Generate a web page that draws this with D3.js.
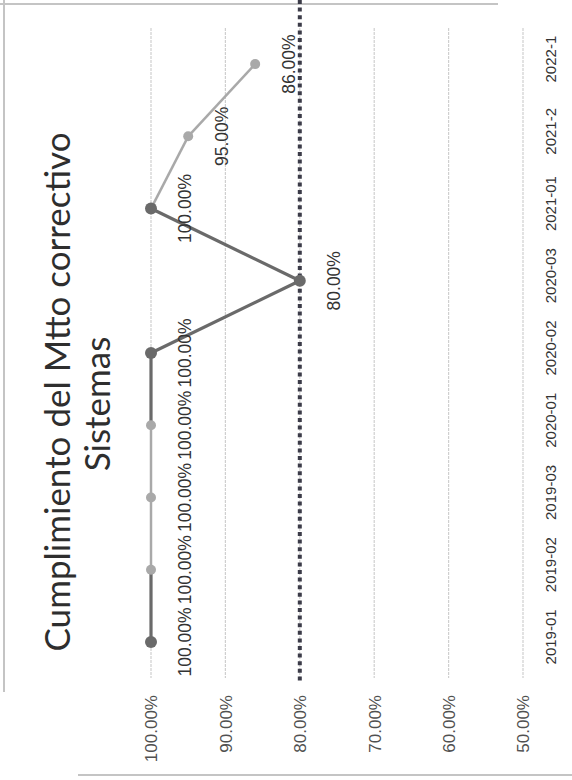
<!DOCTYPE html>
<html>
<head>
<meta charset="utf-8">
<script src="https://cdn.jsdelivr.net/npm/d3@7"></script>
<style>
  body { margin: 0; background: #fff; }
  svg { display: block; }
</style>
</head>
<body>
<div id="chart"></div>
<script>
// chart data (the scanned chart is turned a quarter turn, so it is drawn rotated)
const categories = ["2019-01", "2019-02", "2019-03", "2020-01", "2020-02", "2020-03", "2021-01", "2021-2", "2022-1"];
const cumplimiento = [1.0, 1.0, 1.0, 1.0, 1.0, 0.8, 1.0, 0.95, 0.86];
const meta = 0.8;
const valueTicks = [1.0, 0.9, 0.8, 0.7, 0.6, 0.5];
const titleLines = ["Cumplimiento del Mtto correctivo", "Sistemas"];

// which points/segments were printed in the darker shade
const darkPoints = ["2019-01", "2020-02", "2020-03", "2021-01"];
const darkSegments = ["2019-02", "2020-02", "2020-03", "2021-01"]; // segment ending at this category

const width = 572, height = 780;
const dark = "#6a6a6a", light = "#a9a9a9";

const svg = d3.select("#chart")
  .append("svg")
  .attr("width", width)
  .attr("height", height);

// frame of the scan
const frame = svg.append("g").attr("stroke", "#c4c4c4").attr("stroke-width", 2).attr("fill", "none");
frame.append("line").attr("x1", 0).attr("x2", 498).attr("y1", 4).attr("y2", 4);
frame.append("line").attr("x1", 4).attr("x2", 4).attr("y1", 0).attr("y2", 692);
frame.append("line").attr("x1", 78).attr("x2", 572).attr("y1", 775).attr("y2", 775);

// value scale runs left -> right, categories bottom -> top
const x = d3.scaleLinear().domain([0.5, 1.0]).range([523, 151]);
const y = d3.scaleBand().domain(categories).range([678, 28]);
const cy = (c) => y(c) + y.bandwidth() / 2;

// gridlines
svg.append("g")
  .selectAll("line")
  .data(valueTicks)
  .join("line")
  .attr("x1", (d) => x(d))
  .attr("x2", (d) => x(d))
  .attr("y1", 28)
  .attr("y2", 678)
  .attr("stroke", "#cfcfcf")
  .attr("stroke-width", 1.2)
  .attr("stroke-dasharray", "3,1");

// target line (meta)
svg.append("line")
  .attr("x1", x(meta))
  .attr("x2", x(meta))
  .attr("y1", 0)
  .attr("y2", 683)
  .attr("stroke", "#3b3b48")
  .attr("stroke-width", 4)
  .attr("stroke-dasharray", "4,3.6");

// value axis
const xAxis = svg.append("g")
  .attr("transform", "translate(0,695)")
  .call(d3.axisBottom(x).tickValues(valueTicks).tickFormat(d3.format(".2%")).tickSize(0));
xAxis.select(".domain").remove();
xAxis.selectAll("text")
  .attr("transform", "rotate(-90)")
  .attr("x", 0)
  .attr("y", 0)
  .attr("dy", "0.35em")
  .attr("text-anchor", "end")
  .attr("fill", "#505050")
  .style("font-family", "Liberation Sans, Arial, sans-serif")
  .style("font-size", "17px");

// category axis
const yAxis = svg.append("g")
  .attr("transform", "translate(551,0)")
  .call(d3.axisRight(y).tickSize(0));
yAxis.select(".domain").remove();
yAxis.selectAll("text")
  .attr("transform", "rotate(-90)")
  .attr("x", 5)
  .attr("y", 0)
  .attr("dy", "0.35em")
  .attr("text-anchor", "middle")
  .attr("fill", "#333")
  .style("font-family", "Liberation Sans, Arial, sans-serif")
  .style("font-size", "15px");

// line segments
const points = categories.map((c, i) => ({ c, v: cumplimiento[i] }));
const segments = d3.pairs(points);
svg.append("g")
  .selectAll("line")
  .data(segments)
  .join("line")
  .attr("x1", (d) => x(d[0].v))
  .attr("y1", (d) => cy(d[0].c))
  .attr("x2", (d) => x(d[1].v))
  .attr("y2", (d) => cy(d[1].c))
  .attr("stroke", (d) => (darkSegments.includes(d[1].c) ? dark : light))
  .attr("stroke-width", (d) => (darkSegments.includes(d[1].c) ? 3.2 : 2.5));

// markers
svg.append("g")
  .selectAll("circle")
  .data(points)
  .join("circle")
  .attr("cx", (d) => x(d.v))
  .attr("cy", (d) => cy(d.c))
  .attr("r", (d) => (darkPoints.includes(d.c) ? 6 : 5))
  .attr("fill", (d) => (darkPoints.includes(d.c) ? dark : light));

// data labels
svg.append("g")
  .selectAll("text")
  .data(points)
  .join("text")
  .attr("transform", (d) => `translate(${x(d.v) + 34},${cy(d.c)}) rotate(-90)`)
  .attr("dy", "0.35em")
  .attr("text-anchor", "middle")
  .attr("fill", "#333")
  .style("font-family", "Liberation Sans, Arial, sans-serif")
  .style("font-size", "17.5px")
  .text((d) => d3.format(".2%")(d.v));

// title
svg.append("g")
  .selectAll("text")
  .data(titleLines)
  .join("text")
  .attr("transform", (d, i) => `translate(${70 + i * 40},${392 + i * 12}) rotate(-90)`)
  .attr("text-anchor", "middle")
  .attr("fill", "#2e2e2e")
  .style("font-family", "Lato, sans-serif")
  .style("font-size", "35px")
  .text((d) => d);
</script>
</body>
</html>
